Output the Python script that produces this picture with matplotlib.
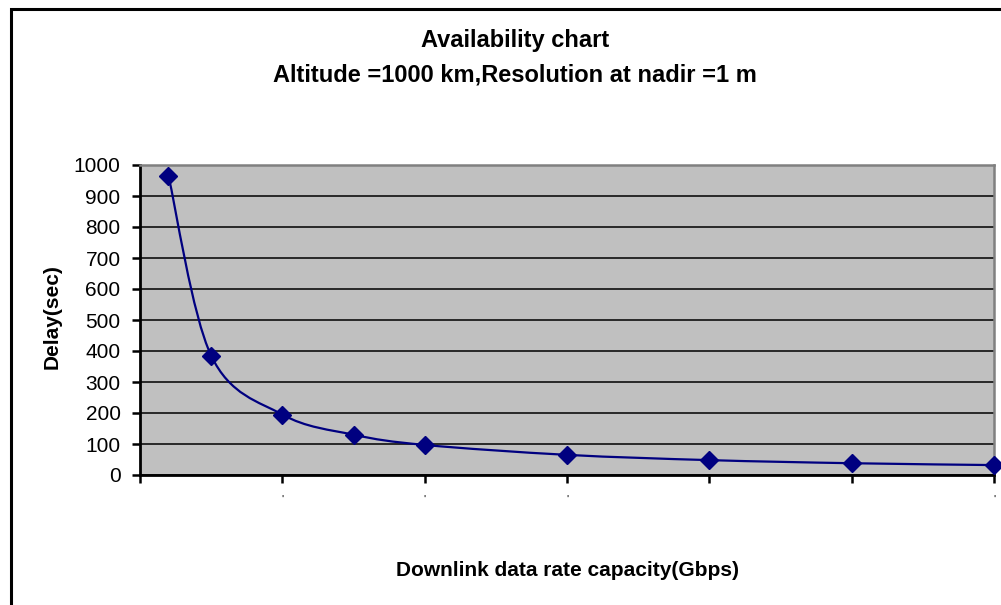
import matplotlib
matplotlib.use("Agg")
import matplotlib.pyplot as plt
from matplotlib.path import Path
from matplotlib.patches import PathPatch, Rectangle

plt.rcParams['font.family'] = ['Liberation Sans', 'DejaVu Sans']

# Data
rate_gbps = [0.4, 1, 2, 3, 4, 6, 8, 10, 12]
delay_sec = [965, 385, 195, 130, 97, 65, 48, 38, 32]
y_ticks = [0, 100, 200, 300, 400, 500, 600, 700, 800, 900, 1000]
x_ticks = [0, 2, 4, 6, 8, 10, 12]
x_tick_labels = ['', "'", "'", "'", '', '', "'"]

W, H = 1001, 605
fig = plt.figure(figsize=(W / 100, H / 100), dpi=100)
fig.patch.set_facecolor('white')

# outer chart border (right/bottom fall outside the image)
fig.add_artist(Rectangle((10.5 / W, -0.05), 1.2, 1.05 - 9 / H, transform=fig.transFigure,
                         fill=False, edgecolor='black', linewidth=2.2))

ax = fig.add_axes([140 / W, (H - 475) / H, 854 / W, 310 / H])
ax.set_facecolor('#C0C0C0')
ax.set_xlim(0, 12)
ax.set_ylim(0, 1000)

for s in ['top', 'right']:
    ax.spines[s].set_color('#808080')
    ax.spines[s].set_linewidth(1.8)
for s in ['left', 'bottom']:
    ax.spines[s].set_color('black')
    ax.spines[s].set_linewidth(2.0)

ax.set_yticks(y_ticks)
ax.set_yticklabels([str(v) for v in y_ticks], fontsize=15)
ax.set_xticks(x_ticks)
ax.set_xticklabels(x_tick_labels, fontsize=8)
ax.tick_params(axis='y', direction='out', length=6, width=1.8, pad=8)
ax.tick_params(axis='x', direction='out', length=6, width=1.8, pad=8)
ax.yaxis.grid(True, color='black', linewidth=1.1)
ax.set_axisbelow(True)

# smoothed line (Excel-style Bezier through the data points)
pts = list(zip(rate_gbps, delay_sec))
n = len(pts)
verts = [pts[0]]
codes = [Path.MOVETO]
for i in range(n - 1):
    p0 = pts[i - 1] if i > 0 else pts[i]
    p1 = pts[i]
    p2 = pts[i + 1]
    p3 = pts[i + 2] if i + 2 < n else pts[i + 1]
    c1 = (p1[0] + (p2[0] - p0[0]) / 6, p1[1] + (p2[1] - p0[1]) / 6)
    c2 = (p2[0] - (p3[0] - p1[0]) / 6, p2[1] - (p3[1] - p1[1]) / 6)
    verts += [c1, c2, p2]
    codes += [Path.CURVE4, Path.CURVE4, Path.CURVE4]
ax.add_patch(PathPatch(Path(verts, codes), facecolor='none', edgecolor='#000080',
                       linewidth=1.6, zorder=3, clip_on=False))
ax.plot(rate_gbps, delay_sec, linestyle='none', marker='D', markersize=9.5,
        color='#000080', zorder=4, clip_on=False)

# titles and axis labels
fig.text(515 / W, 1 - 40 / H, 'Availability chart', ha='center', va='center',
         fontsize=17, fontweight='bold')
fig.text(515 / W, 1 - 75 / H, 'Altitude =1000 km,Resolution at nadir =1 m', ha='center',
         va='center', fontsize=17, fontweight='bold')
fig.text(52 / W, 1 - 317 / H, 'Delay(sec)', rotation=90, ha='center', va='center',
         fontsize=15, fontweight='bold')
fig.text(567 / W, 1 - 571 / H, 'Downlink data rate capacity(Gbps)', ha='center',
         va='center', fontsize=15, fontweight='bold')

fig.savefig('out.png', dpi=100)
